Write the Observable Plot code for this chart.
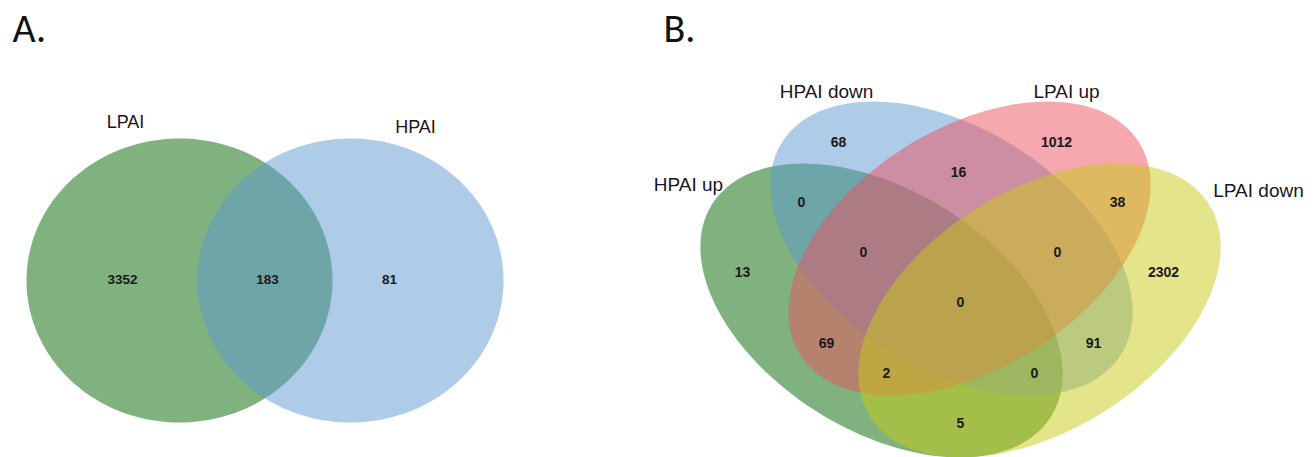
<!DOCTYPE html>
<html>
<head>
<meta charset="utf-8">
<script src="https://cdn.jsdelivr.net/npm/d3@7"></script>
<script src="https://cdn.jsdelivr.net/npm/@observablehq/plot@0.6"></script>
<style>
  html, body { margin: 0; padding: 0; background: #fff; }
  #chart svg { display: block; }
</style>
</head>
<body>
<div id="chart"></div>
<script>
// ---------------- DATA ----------------
// Panel A: two-set Venn
const panelATitle = "A.";
const setsA = ["LPAI", "HPAI"];
const regionsA = ["LPAI only", "LPAI ∩ HPAI", "HPAI only"];
const countsA = [3352, 183, 81];

// Panel B: four-set Venn
const panelBTitle = "B.";
const setsB = ["HPAI up", "HPAI down", "LPAI up", "LPAI down"];
const regionsB = [
  "HPAI up only", "HPAI down only", "LPAI up only", "LPAI down only",
  "HPAI up ∩ HPAI down", "HPAI down ∩ LPAI up", "LPAI up ∩ LPAI down",
  "HPAI up ∩ HPAI down ∩ LPAI up", "HPAI down ∩ LPAI up ∩ LPAI down",
  "all four",
  "HPAI up ∩ LPAI up", "HPAI down ∩ LPAI down",
  "HPAI up ∩ LPAI up ∩ LPAI down", "HPAI up ∩ HPAI down ∩ LPAI down",
  "HPAI up ∩ LPAI down"
];
const countsB = [13, 68, 1012, 2302, 0, 16, 38, 0, 0, 0, 69, 91, 2, 0, 5];

// ---------------- LAYOUT (geometry & style, in pixel units) ----------------
const W = 1314, H = 457;
const colorsA = ["rgb(0,101,0)", "rgb(93,151,209)"];
const colorsB = ["rgb(0,101,0)", "rgb(93,151,209)", "rgb(235,81,93)", "rgb(201,201,21)"];
const ellipsesA = [
  {cx: 179, cy: 280, a: 153, b: 142, rot: 0},
  {cx: 350, cy: 280, a: 153, b: 142, rot: 0}
];
const ellipsesB = [
  {cx: 881, cy: 310, a: 200, b: 120, rot: 32},
  {cx: 951, cy: 248, a: 200, b: 120, rot: 32},
  {cx: 969, cy: 248, a: 200, b: 120, rot: -32},
  {cx: 1039, cy: 310, a: 200, b: 120, rot: -32}
];
const setLabelPosA = [[125, 122], [415, 127]];
const setLabelPosB = [[688, 184], [826, 91], [1066, 91], [1258, 190]];
const countPosA = [[122, 279], [267, 279], [389, 279]];
const countPosB = [
  [742, 272], [838, 142], [1056, 142], [1163, 272],
  [801, 202], [958, 172], [1117, 202],
  [863, 252], [1057, 252],
  [960, 302],
  [826, 343], [1093, 343],
  [886, 373], [1034, 373],
  [960, 423]
];

// ---------------- BUILD ----------------
function ellipsePoints(e, name) {
  const n = 180, r = e.rot * Math.PI / 180, pts = [];
  for (let i = 0; i < n; i++) {
    const t = 2 * Math.PI * i / n;
    const ux = e.a * Math.cos(t), uy = e.b * Math.sin(t);
    pts.push({set: name, x: e.cx + ux * Math.cos(r) - uy * Math.sin(r), y: e.cy + ux * Math.sin(r) + uy * Math.cos(r)});
  }
  return pts;
}

const marks = [];
setsA.forEach((s, i) => {
  marks.push(Plot.line(ellipsePoints(ellipsesA[i], s), {x: "x", y: "y", fill: colorsA[i], fillOpacity: 0.5, stroke: "none", curve: "linear-closed"}));
});
setsB.forEach((s, i) => {
  marks.push(Plot.line(ellipsePoints(ellipsesB[i], s), {x: "x", y: "y", fill: colorsB[i], fillOpacity: 0.5, stroke: "none", curve: "linear-closed"}));
});

const labelFont = "'Liberation Sans', Arial, sans-serif";
const setLabelsA = setsA.map((s, i) => ({text: s, x: setLabelPosA[i][0], y: setLabelPosA[i][1]}));
const setLabelsB = setsB.map((s, i) => ({text: s, x: setLabelPosB[i][0], y: setLabelPosB[i][1]}));
const countLabelsA = countsA.map((c, i) => ({text: String(c), region: regionsA[i], x: countPosA[i][0], y: countPosA[i][1]}));
const countLabelsB = countsB.map((c, i) => ({text: String(c), region: regionsB[i], x: countPosB[i][0], y: countPosB[i][1]}));
const titles = [
  {text: panelATitle, x: 12, y: 29},
  {text: panelBTitle, x: 663, y: 29}
];

const setStyle = {x: "x", y: "y", text: "text", fill: "#1c1424", fontFamily: labelFont, textAnchor: "middle", lineAnchor: "middle"};
const countStyle = {x: "x", y: "y", text: "text", fontWeight: "bold", fill: "#1a1a1a", fontFamily: labelFont, textAnchor: "middle", lineAnchor: "middle", title: "region"};
marks.push(Plot.text(setLabelsA, {...setStyle, fontSize: 18}));
marks.push(Plot.text(setLabelsB, {...setStyle, fontSize: 19}));
marks.push(Plot.text(countLabelsA, {...countStyle, fontSize: 13.5}));
marks.push(Plot.text(countLabelsB, {...countStyle, fontSize: 14}));
marks.push(Plot.text(titles, {x: "x", y: "y", text: "text", fontSize: 40, fill: "#111", fontFamily: "Carlito, 'Liberation Sans', Arial, sans-serif", textAnchor: "start", lineAnchor: "middle"}));

const chart = Plot.plot({
  width: W, height: H,
  margin: 0,
  x: {domain: [0, W], range: [0, W], axis: null},
  y: {domain: [0, H], range: [0, H], axis: null},
  style: {background: "#fff", overflow: "hidden"},
  marks
});
document.getElementById("chart").appendChild(chart);
</script>
</body>
</html>
